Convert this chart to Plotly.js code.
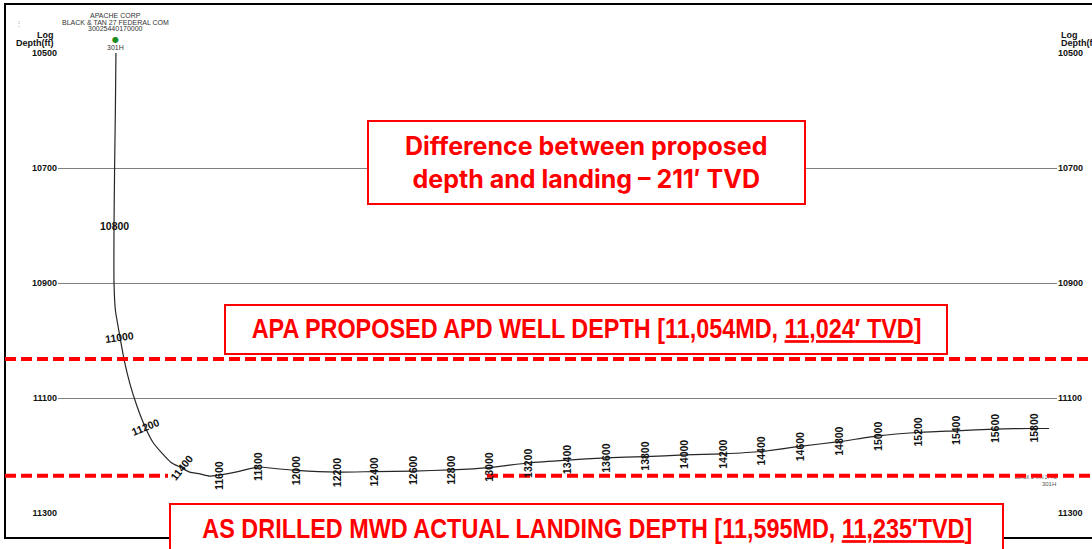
<!DOCTYPE html>
<html><head><meta charset="utf-8">
<script src="https://cdn.plot.ly/plotly-3.0.1.min.js"></script>
<style>html,body{margin:0;padding:0;background:#fff;overflow:hidden}#chart{width:1092px;height:549px;}</style>
</head><body><div id="chart"></div>
<script>
// ---- survey stations ----
const md  = [10500,10600,10700,10800,10900,10950,11000,11050,11100,11150,11200,11250,11300,11350,11400,11450,11500,11550,11600,11700,11800,11900,12000,12200,12400,12600,12800,13000,13200,13400,13600,13800,14000,14200,14400,14600,14800,15000,15200,15400,15600,15800,15875];
const tvd = [10500,10601,10700,10801,10900,10947,10994,11036,11076,11114,11150,11177,11196,11212,11221,11229,11232,11236,11234,11228,11220,11223,11226,11229,11228,11227,11225,11221,11213,11208,11204,11202,11199,11197,11193,11184,11176,11166,11160,11157,11154,11153,11153];
const vs  = [0,-3,-7,-10,-10,-3,21,44,73,109,151,192,239,286,338,384,436,486,535,634,738,836,940,1148,1340,1543,1740,1938,2140,2343,2545,2748,2951,3153,3351,3553,3756,3958,4161,4364,4566,4769,4847];

// MD labels written along the path
const mdLabels = [10800,11000,11200,11400,11600,11800,12000,12200,12400,12600,12800,13000,13200,13400,13600,13800,14000,14200,14400,14600,14800,15000,15200,15400,15600,15800];
// depth axis ticks
const depthTicks = [10500,10700,10900,11100,11300];
const depthTickText = ['10500','10700','10900','11100','11300'];
// well header
const wellOperator = 'APACHE CORP';
const wellLease = 'BLACK & TAN 27 FEDERAL COM';
const wellApi = '30025440170000';
const wellName = '301H';
// reference depths (TVD, as drawn)
const proposedLineTVD = 11032;
const landingLineTVD = 11235;
// callout texts
const diffLines = ['Difference between proposed', 'depth and landing \u2013 211\u2032 TVD'];
const proposedText = 'APA PROPOSED APD WELL DEPTH [11,054MD, <u>11,024\u2032 TVD</u>]';
const landingText = 'AS DRILLED MWD ACTUAL LANDING DEPTH [11,595MD, <u>11,235\u2032TVD</u>]';

// ---- layout geometry ----
const W = 1092, H = 549;
const M = {l:58, r:35, t:53, b:36};
const PW = W - M.l - M.r, PH = H - M.t - M.b;
const xRange = [-301, 4888];
const yRange = [11300, 10500];
const px = X => (X - M.l) / PW;
const py = Y => (H - M.b - Y) / PH;
const tvdPerPx = (yRange[0] - yRange[1]) / PH;

const labelAngle = {10800:0, 11000:-8, 11200:-22, 11400:-52};
const boldFont = 'Liberation Sans, Arial, sans-serif';
const calloutFont = 'Liberation Sans, Arial, sans-serif';

const traces = [
  {x: vs, y: tvd, type:'scatter', mode:'lines', line:{color:'#262626', width:1.2, shape:'spline', smoothing:0.5}, hoverinfo:'skip'},
  {x:[vs[vs.length-1], vs[vs.length-1]], y:[tvd[tvd.length-1] + 49*tvdPerPx, tvd[tvd.length-1] + 56*tvdPerPx],
   type:'scatter', mode:'text', text:[wellLease, wellName], textposition:'middle center',
   textfont:{family:'Liberation Sans, Arial', size:[4.5,6], color:'#555'}, hoverinfo:'skip'},
  {x:[vs[0]], y:[tvd[0]], yaxis:'y2', type:'scatter', mode:'markers', marker:{opacity:0}, hoverinfo:'skip'}
];

const annotations = [];
mdLabels.forEach(m => {
  const i = md.indexOf(m);
  annotations.push({x: vs[i], y: tvd[i], xref:'x', yref:'y', text: String(m), showarrow:false,
    textangle: (m in labelAngle) ? labelAngle[m] : -90,
    font:{family:boldFont, size:10.5, color:'#111', weight:'bold'}});
});
// axis captions
[['Log',34.5],['Depth(ft)',43]].forEach(([t,Y]) => {
  annotations.push({xref:'paper', yref:'paper', x:px(56), y:py(Y), xanchor:'right', yanchor:'middle', text:t, showarrow:false,
    font:{family:boldFont, size:9, color:'#111', weight:'bold'}});
  annotations.push({xref:'paper', yref:'paper', x:px(1059), y:py(Y), xanchor:'left', yanchor:'middle', text:t, showarrow:false,
    font:{family:boldFont, size:9, color:'#111', weight:'bold'}});
});
// well header
[[wellOperator,15],[wellLease,22],[wellApi,28.5]].forEach(([t,Y]) => {
  annotations.push({xref:'x', yref:'paper', x:vs[0], y:py(Y), xanchor:'center', yanchor:'middle', text:t, showarrow:false,
    font:{family:'Liberation Sans, Arial', size:7, color:'#333'}});
});
// surface location symbol and well name
annotations.push({xref:'x', yref:'paper', x:vs[0], y:py(39.5), xanchor:'center', yanchor:'middle', text:'\u25cf', showarrow:false,
  font:{family:'DejaVu Sans', size:8, color:'#1c8c1c'}});
annotations.push({xref:'x', yref:'paper', x:vs[0], y:py(47.5), xanchor:'center', yanchor:'middle', text:wellName, showarrow:false,
  font:{family:'Liberation Sans, Arial', size:7, color:'#333'}});
annotations.push({xref:'paper', yref:'paper', x:px(13), y:py(15), text:'\u22ee', showarrow:false, font:{size:8, color:'#aaa'}});
// callouts
annotations.push({xref:'paper', yref:'paper', x:px(586), y:py(162), xanchor:'center', yanchor:'middle', text:diffLines.join('<br>'), showarrow:false,
  font:{family:'Inter, Roboto, sans-serif', size:25, color:'#ff0000', weight:'bold'}});
const narrowIdx = [];
narrowIdx.push(annotations.length);
annotations.push({xref:'paper', yref:'paper', x:px(586), y:py(329), xanchor:'center', yanchor:'middle', text:proposedText, showarrow:false,
  font:{family:calloutFont, size:27, color:'#ff0000', weight:'bold'}});
narrowIdx.push(annotations.length);
annotations.push({xref:'paper', yref:'paper', x:px(587), y:py(529), xanchor:'center', yanchor:'middle', text:landingText, showarrow:false,
  font:{family:calloutFont, size:27, color:'#ff0000', weight:'bold'}});

const dashStyle = {color:'#ff0000', width:4, dash:'11px,5px'};
const shapes = [
  {type:'rect', xref:'paper', yref:'paper', x0:px(5), x1:px(1110), y0:py(538), y1:py(4), line:{color:'#000', width:2}},
  {type:'line', xref:'paper', yref:'y', x0:px(5), x1:px(1100), y0:proposedLineTVD, y1:proposedLineTVD, line:dashStyle},
  {type:'line', xref:'paper', yref:'y', x0:px(5), x1:px(168), y0:landingLineTVD, y1:landingLineTVD, line:dashStyle},
  {type:'line', xref:'paper', yref:'y', x0:px(487), x1:px(1100), y0:landingLineTVD, y1:landingLineTVD, line:dashStyle},
  {type:'rect', xref:'paper', yref:'paper', x0:px(368), x1:px(805), y0:py(204), y1:py(121), fillcolor:'#fff', line:{color:'#ff0000', width:2}},
  {type:'rect', xref:'paper', yref:'paper', x0:px(225), x1:px(947), y0:py(354), y1:py(305), fillcolor:'#fff', line:{color:'#ff0000', width:2}},
  {type:'rect', xref:'paper', yref:'paper', x0:px(170), x1:px(1003), y0:py(570), y1:py(504), fillcolor:'#fff', line:{color:'#ff0000', width:2}}
];

const yCommon = {range:yRange, tickvals:depthTicks, ticktext:depthTickText, ticks:'', zeroline:false, showline:false,
  tickfont:{family:boldFont, size:9, color:'#111', weight:'bold'}, fixedrange:true};

const layout = {
  width:W, height:H, margin:M, paper_bgcolor:'#fff', plot_bgcolor:'#fff', showlegend:false,
  xaxis:{range:xRange, visible:false, fixedrange:true},
  yaxis:Object.assign({}, yCommon, {showgrid:true, gridcolor:'#808080', gridwidth:1}),
  yaxis2:Object.assign({}, yCommon, {overlaying:'y', side:'right', showgrid:false}),
  annotations, shapes
};
Plotly.newPlot('chart', traces, layout, {staticPlot:true, displayModeBar:false}).then(gd => {
  // condense the two banner captions horizontally (narrow bold face is not installed)
  narrowIdx.forEach(k => {
    const t = gd.querySelector('.annotation[data-index="' + k + '"] text.annotation-text');
    if (!t) return;
    const bb = t.getBBox();
    const cx = bb.x + bb.width / 2;
    t.setAttribute('transform', 'translate(' + cx + ',0) scale(0.867,1) translate(' + (-cx) + ',0)');
  });
});
</script></body></html>
